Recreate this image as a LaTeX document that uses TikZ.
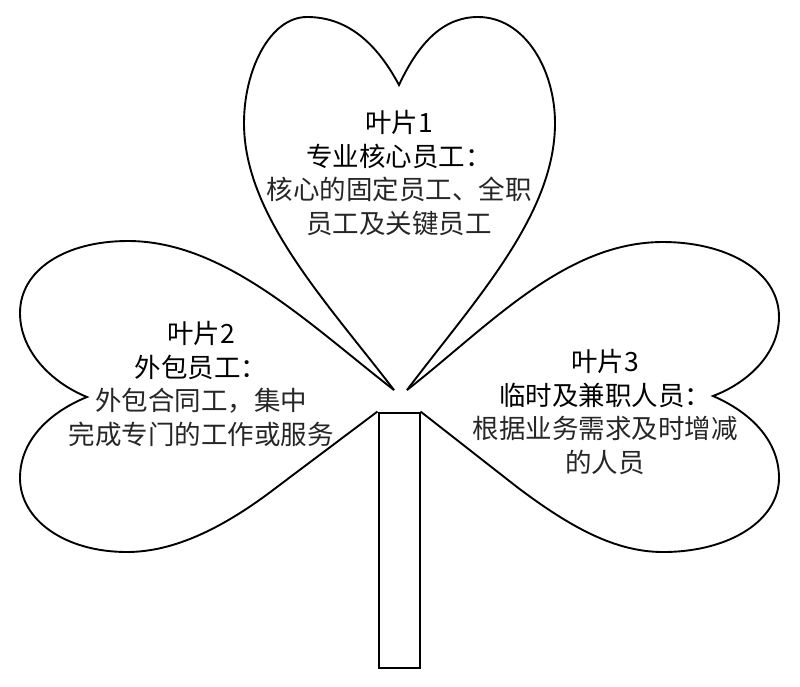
\documentclass[tikz,border=0pt]{standalone}
\usepackage{fontspec}
\setmainfont{Noto Sans CJK SC}
\usetikzlibrary{positioning}
\newcommand{\detail}[1]{\textcolor{black!85}{#1}}
\tikzset{%
	leaf/.style = {draw=black, line width=1.9pt, line join=miter},
	stem/.style = {rectangle, draw=black, line width=2pt, minimum width=41pt, minimum height=255pt, inner sep=0pt},
	label/.style = {align=center, font=\fontsize{26.5pt}{33.5pt}\selectfont, inner sep=0pt}
}
\begin{document}
\begin{tikzpicture}[x=1pt,y=-1pt]
\useasboundingbox (0,0) rectangle (800,686);
% stem
\node(Stem)		[stem] at (399,540) {};
% leaves
\coordinate (TipL) at (394,390);
\coordinate (TipR) at (407,390);
\draw [leaf] (TipL) .. controls (325,300) and (244,215) .. (244,123)
	.. controls (244,70) and (270,17) .. (307,17)
	.. controls (345,17) and (375,40) .. (399,85)
	.. controls (420,40) and (445,17) .. (478,17)
	.. controls (525,17) and (555,70) .. (555,123)
	.. controls (555,215) and (475,300) .. (TipR);
\draw [leaf] (TipL) .. controls (310,325) and (225,241) .. (128,241)
	.. controls (65,241) and (20,270) .. (20,313)
	.. controls (20,350) and (50,382) .. (87,397)
	.. controls (50,412) and (20,440) .. (20,478)
	.. controls (20,520) and (65,552) .. (127,552)
	.. controls (175,552) and (225,527) .. (277,487) -- (Stem.north west);
\draw [leaf] (TipR) .. controls (490,325) and (565,242) .. (663,242)
	.. controls (725,242) and (779,270) .. (779,317)
	.. controls (779,352) and (750,382) .. (713,396)
	.. controls (750,412) and (779,440) .. (779,478)
	.. controls (779,520) and (730,552) .. (663,552)
	.. controls (615,552) and (570,527) .. (517,487) -- (Stem.north east);
% texts
\node(LeafA)	[label] at (399,173) {叶片1\\专业核心员工：\\\detail{核心的固定员工、全职}\\\detail{员工及关键员工}};
\node(LeafB)	[label] at (201,384) {叶片2\\外包员工：\\\detail{外包合同工，集中}\\\detail{完成专门的工作或服务}};
\node(LeafC)	[label] at (605,412) {叶片3\\临时及兼职人员：\\\detail{根据业务需求及时增减}\\\detail{的人员}};
\end{tikzpicture}
\end{document}
